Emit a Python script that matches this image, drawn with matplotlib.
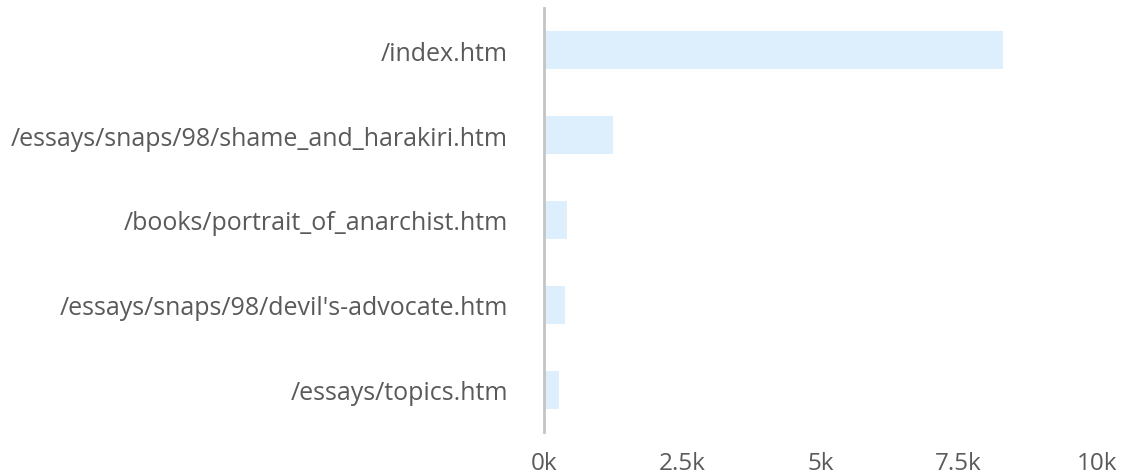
import matplotlib.pyplot as plt
from matplotlib.ticker import FuncFormatter

# Dados
paginas = ['/index.htm',
           '/essays/snaps/98/shame_and_harakiri.htm',
           '/books/portrait_of_anarchist.htm',
           "/essays/snaps/98/devil's-advocate.htm",
           '/essays/topics.htm']
visitas = [8300, 1250, 420, 380, 270]
ticks_x = [0, 2500, 5000, 7500, 10000]

plt.rcParams['font.family'] = ['Open Sans', 'DejaVu Sans']

fig = plt.figure(figsize=(11.25, 4.77), dpi=100)
ax = fig.add_axes([544 / 1125, 1 - 433 / 477, 553 / 1125, 424 / 477])

ax.barh(range(len(paginas)), visitas, height=0.45, color='#ddeefd', zorder=1)

ax.set_xlim(0, 10000)
ax.set_ylim(len(paginas) - 0.5, -0.5)
ax.set_yticks(range(len(paginas)))
ax.set_yticklabels(paginas)
ax.set_xticks(ticks_x)
ax.xaxis.set_major_formatter(FuncFormatter(lambda v, p: f"{v / 1000:g}k"))

for s in ['top', 'right', 'bottom']:
    ax.spines[s].set_visible(False)
ax.spines['left'].set_color('#c4c4c4')
ax.spines['left'].set_linewidth(2)
ax.spines['left'].set_zorder(3)

ax.tick_params(axis='both', length=0, labelcolor='#5a5a5a')
ax.tick_params(axis='y', pad=26, labelsize=18)
ax.tick_params(axis='x', pad=14, labelsize=17.5)

fig.savefig('out.png', dpi=100)
